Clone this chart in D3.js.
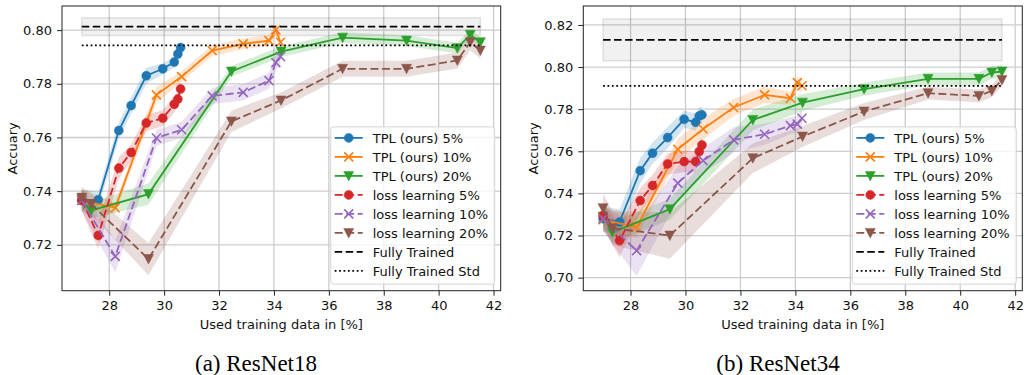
<!DOCTYPE html>
<html>
<head>
<meta charset="utf-8">
<script src="https://cdn.jsdelivr.net/npm/d3@7"></script>
<style>
  body { margin: 0; background: #fff; }
  svg { display: block; font-family: "DejaVu Sans", sans-serif; }
</style>
</head>
<body>
<svg id="chart" width="1024" height="375"></svg>
<script>
'use strict';

// used training data [%] for each labelling budget (same for both nets)
var budget5X  = [27.0, 27.6, 28.35, 28.8, 29.35, 29.95, 30.37, 30.5, 30.6];
var budget10X = [27.0, 28.22, 29.72, 30.64, 31.75, 32.88, 33.82, 34.07, 34.24];
var budget20X = [27.0, 27.34, 29.43, 32.45, 34.26, 36.5, 38.83, 40.68, 41.15, 41.52];

// ResNet18 mean accuracy
var r18Tpl5  = [0.7365, 0.7368, 0.7626, 0.7719, 0.783, 0.7856, 0.7881, 0.7911, 0.7935];
var r18Tpl10 = [0.7365, 0.7338, 0.7759, 0.7827, 0.7924, 0.7949, 0.7961, 0.8001, 0.7955];
var r18Tpl20 = [0.7368, 0.7328, 0.7389, 0.7846, 0.792, 0.7972, 0.7961, 0.7933, 0.7983, 0.7955];
var r18Ll5   = [0.7366, 0.7235, 0.7486, 0.7544, 0.7654, 0.7672, 0.7724, 0.7743, 0.7781];
var r18Ll10  = [0.7365, 0.7157, 0.7598, 0.7629, 0.7755, 0.7768, 0.7812, 0.7879, 0.7902];
var r18Ll20  = [0.7376, 0.7352, 0.7147, 0.766, 0.7738, 0.7856, 0.7856, 0.7887, 0.7955, 0.7924];
// ResNet18 std
var r18Tpl5Std  = [0.004, 0.003, 0.003, 0.003, 0.003, 0.002, 0.002, 0.002, 0.002];
var r18Tpl10Std = [0.004, 0.002, 0.003, 0.002, 0.002, 0.002, 0.002, 0.002, 0.002];
var r18Tpl20Std = [0.004, 0.003, 0.004, 0.002, 0.002, 0.002, 0.002, 0.002, 0.002, 0.002];
var r18Ll5Std   = [0.004, 0.005, 0.004, 0.003, 0.003, 0.003, 0.003, 0.003, 0.003];
var r18Ll10Std  = [0.004, 0.006, 0.003, 0.003, 0.003, 0.003, 0.003, 0.003, 0.003];
var r18Ll20Std  = [0.004, 0.004, 0.006, 0.004, 0.003, 0.003, 0.003, 0.003, 0.003, 0.003];
var r18Full = [0.8013, 0.0033, 0.7943];   // mean, std, "std" line

// ResNet34 mean accuracy
var r34Tpl5  = [0.728, 0.7264, 0.7508, 0.7591, 0.7665, 0.7752, 0.7738, 0.7768, 0.7773];
var r34Tpl10 = [0.7275, 0.724, 0.761, 0.7706, 0.7808, 0.7868, 0.7852, 0.7926, 0.7911];
var r34Tpl20 = [0.729, 0.7215, 0.7325, 0.7749, 0.7831, 0.7895, 0.7944, 0.7944, 0.7974, 0.7979];
var r34Ll5   = [0.7295, 0.7176, 0.7366, 0.7437, 0.754, 0.7551, 0.7551, 0.7599, 0.763];
var r34Ll10  = [0.728, 0.7128, 0.7449, 0.7556, 0.7654, 0.7681, 0.7722, 0.7729, 0.7757];
var r34Ll20  = [0.733, 0.7235, 0.72, 0.7567, 0.767, 0.7789, 0.7876, 0.7863, 0.7887, 0.7939];
// ResNet34 std
var r34Tpl5Std  = [0.006, 0.006, 0.006, 0.005, 0.005, 0.004, 0.004, 0.004, 0.004];
var r34Tpl10Std = [0.006, 0.005, 0.005, 0.005, 0.004, 0.004, 0.003, 0.003, 0.003];
var r34Tpl20Std = [0.006, 0.005, 0.005, 0.005, 0.004, 0.003, 0.003, 0.003, 0.003, 0.003];
var r34Ll5Std   = [0.006, 0.008, 0.006, 0.005, 0.005, 0.005, 0.005, 0.004, 0.004];
var r34Ll10Std  = [0.006, 0.012, 0.008, 0.006, 0.006, 0.005, 0.004, 0.004, 0.004];
var r34Ll20Std  = [0.007, 0.008, 0.011, 0.007, 0.005, 0.004, 0.003, 0.003, 0.003, 0.003];
var r34Full = [0.8129, 0.0099, 0.7911];

var fullX = [27.0, 41.52];

var seriesNames  = ['TPL (ours) 5%', 'TPL (ours) 10%', 'TPL (ours) 20%',
                    'loss learning 5%', 'loss learning 10%', 'loss learning 20%'];
var seriesColors = ['#1f77b4', '#ff7f0e', '#2ca02c', '#d62728', '#9467bd', '#8c564b'];
var seriesMarkers = ['o', 'x', 'v', 'o', 'x', 'v'];
var fullNames = ['Fully Trained', 'Fully Trained Std'];

var xTicks = [28, 30, 32, 34, 36, 38, 40, 42];
var r18YTicks = [0.72, 0.74, 0.76, 0.78, 0.80];
var r34YTicks = [0.70, 0.72, 0.74, 0.76, 0.78, 0.80, 0.82];
var captions = ['(a) ResNet18', '(b) ResNet34'];

var xOf = [budget5X, budget10X, budget20X, budget5X, budget10X, budget20X];

var panels = [
    {id: 0, left: 62, right: 500.7, top: 6, bottom: 290.7, yDomain: [0.7029, 0.809], yTicks: r18YTicks,
     means: [r18Tpl5, r18Tpl10, r18Tpl20, r18Ll5, r18Ll10, r18Ll20],
     stds: [r18Tpl5Std, r18Tpl10Std, r18Tpl20Std, r18Ll5Std, r18Ll10Std, r18Ll20Std],
     full: r18Full, capX: 256},
    {id: 1, left: 583.3, right: 1022.3, top: 6, bottom: 290.7, yDomain: [0.6938, 0.829], yTicks: r34YTicks,
     means: [r34Tpl5, r34Tpl10, r34Tpl20, r34Ll5, r34Ll10, r34Ll20],
     stds: [r34Tpl5Std, r34Tpl10Std, r34Tpl20Std, r34Ll5Std, r34Ll10Std, r34Ll20Std],
     full: r34Full, capX: 778}
];

var svg = d3.select('#chart');
svg.append('rect').attr('width', 1024).attr('height', 375).attr('fill', '#ffffff');

var markerPath = function(kind){
    if(kind === 'o') return d3.symbol().type(d3.symbolCircle).size(Math.PI * 4.5 * 4.5)();
    if(kind === 'x') return 'M-4.5,-4.5L4.5,4.5M-4.5,4.5L4.5,-4.5';
    return 'M-5,-4.5L5,-4.5L0,5Z';
};

var drawMarker = function(sel, kind, color){
    sel.attr('d', markerPath(kind))
        .attr('fill', kind === 'x' ? 'none' : color)
        .attr('stroke', color)
        .attr('stroke-width', kind === 'x' ? 1.6 : 0.5);
};

var drawPanel = function(p){
    var x = d3.scaleLinear().domain([26.28, 42.26]).range([p.left, p.right]),
        y = d3.scaleLinear().domain(p.yDomain).range([p.bottom, p.top]),
        g = svg.append('g');

// ================ grid
    g.selectAll('line.gx').data(xTicks).enter().append('line')
        .attr('x1', function(d){ return x(d); }).attr('x2', function(d){ return x(d); })
        .attr('y1', p.top).attr('y2', p.bottom)
        .attr('stroke', '#cccccc').attr('stroke-width', 1.3);
    g.selectAll('line.gy').data(p.yTicks).enter().append('line')
        .attr('y1', function(d){ return y(d); }).attr('y2', function(d){ return y(d); })
        .attr('x1', p.left).attr('x2', p.right)
        .attr('stroke', '#cccccc').attr('stroke-width', 1.3);

// ================ fully trained band
    var full = p.full;
    g.append('rect')
        .attr('x', x(fullX[0])).attr('width', x(fullX[1]) - x(fullX[0]))
        .attr('y', y(full[0] + full[1])).attr('height', y(full[0] - full[1]) - y(full[0] + full[1]))
        .attr('fill', '#000').attr('fill-opacity', 0.055)
        .attr('stroke', '#000').attr('stroke-opacity', 0.1).attr('stroke-width', 1.5);

// ================ std bands
    var band = d3.area()
        .x(function(d){ return x(d[0]); })
        .y0(function(d){ return y(d[1] - d[2]); })
        .y1(function(d){ return y(d[1] + d[2]); });
    var rows = p.means.map(function(m, k){
        return m.map(function(v, i){ return [xOf[k][i], v, p.stds[k][i]]; });
    });
    rows.forEach(function(r, k){
        g.append('path').attr('d', band(r))
            .attr('fill', seriesColors[k]).attr('fill-opacity', 0.2);
    });

// ================ mean lines + markers
    var line = d3.line().x(function(d){ return x(d[0]); }).y(function(d){ return y(d[1]); });
    rows.forEach(function(r, k){
        g.append('path').attr('d', line(r))
            .attr('fill', 'none').attr('stroke', seriesColors[k]).attr('stroke-width', 1.8)
            .attr('stroke-dasharray', k >= 3 ? '8,3.5' : null);
        g.selectAll('path.m' + k).data(r).enter().append('path')
            .attr('transform', function(d){ return 'translate(' + x(d[0]) + ',' + y(d[1]) + ')'; })
            .call(drawMarker, seriesMarkers[k], seriesColors[k]);
    });

    g.append('line')
        .attr('x1', x(fullX[0])).attr('x2', x(fullX[1]))
        .attr('y1', y(full[0])).attr('y2', y(full[0]))
        .attr('stroke', '#000').attr('stroke-width', 1.8).attr('stroke-dasharray', '7.5,3.5');
    g.append('line')
        .attr('x1', x(fullX[0])).attr('x2', x(fullX[1]))
        .attr('y1', y(full[2])).attr('y2', y(full[2]))
        .attr('stroke', '#000').attr('stroke-width', 1.8).attr('stroke-dasharray', '1.8,2.6');

// ================ axes
    var xAxis = g.append('g').attr('transform', 'translate(0,' + p.bottom + ')')
        .call(d3.axisBottom(x).tickValues(xTicks).tickSize(5).tickPadding(5).tickFormat(d3.format('d')));
    var yAxis = g.append('g').attr('transform', 'translate(' + p.left + ',0)')
        .call(d3.axisLeft(y).tickValues(p.yTicks).tickSize(5).tickPadding(5).tickFormat(d3.format('.2f')));
    [xAxis, yAxis].forEach(function(a){
        a.select('.domain').remove();
        a.selectAll('text').attr('font-size', '13px').attr('font-family', 'DejaVu Sans').attr('fill', '#111');
        a.selectAll('line').attr('stroke', '#222').attr('stroke-width', 1);
    });
    g.append('rect')
        .attr('x', p.left).attr('y', p.top)
        .attr('width', p.right - p.left).attr('height', p.bottom - p.top)
        .attr('fill', 'none').attr('stroke', '#222').attr('stroke-width', 1);

    g.append('text')
        .attr('x', (p.left + p.right) / 2).attr('y', 328.5)
        .attr('text-anchor', 'middle').attr('font-size', '13px').attr('fill', '#111')
        .text('Used training data in [%]');
    g.append('text')
        .attr('transform', 'translate(' + (p.left - 45.3) + ',' + (p.top + p.bottom) / 2 + ') rotate(-90)')
        .attr('text-anchor', 'middle').attr('font-size', '13px').attr('fill', '#111')
        .text('Accuary');
    g.append('text')
        .attr('x', p.capX).attr('y', 370.7)
        .attr('text-anchor', 'middle')
        .attr('font-family', '"Liberation Serif", "Times New Roman", serif')
        .attr('font-size', '23px').attr('fill', '#000')
        .text(captions[p.id]);

// ================ legend
    var lw = 164, lh = 157.3,
        lx = p.right - 6 - lw, ly = p.bottom - 6.5 - lh,
        leg = g.append('g');
    leg.append('rect')
        .attr('x', lx).attr('y', ly).attr('width', lw).attr('height', lh)
        .attr('rx', 3).attr('fill', '#ffffff').attr('fill-opacity', 0.8)
        .attr('stroke', '#d5d5d5').attr('stroke-width', 1);
    var entries = seriesNames.map(function(n, k){
        return {name: n, color: seriesColors[k], marker: seriesMarkers[k], dash: k >= 3 ? '8,3.5' : null};
    }).concat([
        {name: fullNames[0], color: '#000', marker: null, dash: '7.5,3.5'},
        {name: fullNames[1], color: '#000', marker: null, dash: '1.8,2.6'}
    ]);
    var items = leg.selectAll('g.item').data(entries).enter().append('g')
        .attr('transform', function(d, i){ return 'translate(' + lx + ',' + (ly + 11 + i * 19) + ')'; });
    items.append('line')
        .attr('x1', 4).attr('x2', 32).attr('y1', 0).attr('y2', 0)
        .attr('stroke', function(d){ return d.color; }).attr('stroke-width', 1.8)
        .attr('stroke-dasharray', function(d){ return d.dash; });
    items.filter(function(d){ return d.marker; }).append('path')
        .attr('transform', 'translate(18,0)')
        .each(function(d){ d3.select(this).call(drawMarker, d.marker, d.color); });
    items.append('text')
        .attr('x', 42).attr('y', 0).attr('dy', '0.36em')
        .attr('font-size', '13px').attr('fill', '#111')
        .text(function(d){ return d.name; });
};

panels.forEach(drawPanel);
</script>
</body>
</html>
